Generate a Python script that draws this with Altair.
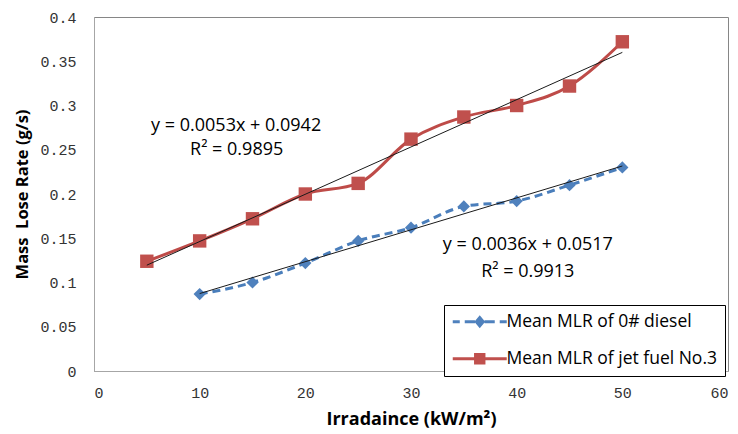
import altair as alt
import pandas as pd

# ---- data ----
irr_diesel = [10, 15, 20, 25, 30, 35, 40, 45, 50]
mlr_diesel = [0.087, 0.100, 0.122, 0.147, 0.162, 0.186, 0.192, 0.210, 0.230]
irr_jet = [5, 10, 15, 20, 25, 30, 35, 40, 45, 50]
mlr_jet = [0.124, 0.147, 0.172, 0.200, 0.212, 0.262, 0.287, 0.300, 0.322, 0.372]
series_names = ["Mean MLR of 0# diesel", "Mean MLR of jet fuel No.3"]
eq_texts = ["y = 0.0053x + 0.0942", "R\u00b2 = 0.9895", "y = 0.0036x + 0.0517", "R\u00b2 = 0.9913"]
x_ticks = [0, 10, 20, 30, 40, 50, 60]
y_ticks = [0, 0.05, 0.1, 0.15, 0.2, 0.25, 0.3, 0.35, 0.4]

# ---- annotation placement (data coordinates) ----
eq_x = [13.45, 13.5, 41.05, 41.05]
eq_y = [0.277, 0.2495, 0.1425, 0.1122]

# ---- styles ----
line_colors = ["#4A7EBB", "#BE4B48"]
marker_colors = ["#4F81BD", "#C0504D"]
legend_paths = [
    "M-4.5,-0.25L-3.33,-0.25L-3.33,0.25L-4.5,0.25Z "
    "M-2.5,-0.25L-0.8,-0.25L-0.8,0.25L-2.5,0.25Z "
    "M0.8,-0.25L2.5,-0.25L2.5,0.25L0.8,0.25Z "
    "M3.33,-0.25L4.5,-0.25L4.5,0.25L3.33,0.25Z "
    "M0,-1.1L0.9,0L0,1.1L-0.9,0Z",
    "M-4.5,-0.25L4.5,-0.25L4.5,0.25L-4.5,0.25Z "
    "M-0.95,-0.95L0.95,-0.95L0.95,0.95L-0.95,0.95Z",
]

df_d = pd.DataFrame({"irr": irr_diesel, "mlr": mlr_diesel, "series": series_names[0]})
df_j = pd.DataFrame({"irr": irr_jet, "mlr": mlr_jet, "series": series_names[1]})
df_all = pd.concat([df_d, df_j], ignore_index=True)
df_eq = pd.DataFrame({"t": eq_texts, "irr": eq_x, "mlr": eq_y})

tick_font = "Liberation Mono"
title_font = "Open Sans"

x_enc = alt.X(
    "irr:Q",
    scale=alt.Scale(domain=[0, 60], nice=False),
    axis=alt.Axis(
        values=x_ticks, format="d", title="Irradaince (kW/m\u00b2)", grid=False, ticks=False,
        domainColor="#A6A6A6", labelFont=tick_font, labelFontSize=15, labelColor="#333333",
        labelPadding=14, titleFont=title_font, titleFontSize=18, titleFontWeight="bold",
        titleColor="#000000", titlePadding=10,
    ),
)
y_enc = alt.Y(
    "mlr:Q",
    scale=alt.Scale(domain=[0, 0.4], nice=False),
    axis=alt.Axis(
        values=y_ticks, format=".2~f", title="Mass\u00a0 Lose Rate (g/s)", grid=False, ticks=False,
        domainColor="#A6A6A6", labelFont=tick_font, labelFontSize=15, labelColor="#333333",
        labelPadding=18, titleFont=title_font, titleFontSize=16.5, titleFontWeight="bold",
        titleColor="#000000", titlePadding=9,
    ),
)

diesel_line = alt.Chart(df_d).mark_line(
    color=line_colors[0], strokeWidth=3, strokeDash=[8, 5], interpolate="monotone"
).encode(x=x_enc, y=y_enc)
diesel_pts = alt.Chart(df_d).mark_point(
    shape="diamond", filled=True, size=150, color=marker_colors[0], opacity=1
).encode(x=x_enc, y=y_enc)
jet_line = alt.Chart(df_j).mark_line(
    color=line_colors[1], strokeWidth=3, interpolate="monotone"
).encode(x=x_enc, y=y_enc)
jet_pts = alt.Chart(df_j).mark_point(
    shape="square", filled=True, size=180, color=marker_colors[1], opacity=1
).encode(x=x_enc, y=y_enc)

trend_d = alt.Chart(df_d).transform_regression("irr", "mlr").mark_line(
    color="#1a1a1a", strokeWidth=1
).encode(x=x_enc, y=y_enc)
trend_j = alt.Chart(df_j).transform_regression("irr", "mlr").mark_line(
    color="#1a1a1a", strokeWidth=1
).encode(x=x_enc, y=y_enc)

eq_text = alt.Chart(df_eq).mark_text(
    font=title_font, fontSize=18, color="#000000", align="center", baseline="middle"
).encode(x=x_enc, y=y_enc, text="t:N")

leg = alt.Legend(
    title=None, orient="none", legendX=350, legendY=288, padding=8,
    fillColor="#FFFFFF", strokeColor="#000000", symbolSize=144, symbolOffset=19,
    labelOffset=18, labelFont=title_font, labelFontSize=17.5, labelColor="#000000",
    rowPadding=18, symbolStrokeWidth=0, labelLimit=400,
)
legend_layer = alt.Chart(df_all).transform_filter("false").mark_point(
    filled=True, opacity=1
).encode(
    x=x_enc, y=y_enc,
    color=alt.Color("series:N", scale=alt.Scale(domain=series_names, range=marker_colors), legend=leg),
    shape=alt.Shape("series:N", scale=alt.Scale(domain=series_names, range=legend_paths), legend=leg),
)

chart = alt.layer(
    diesel_line, jet_line, diesel_pts, jet_pts, trend_d, trend_j, eq_text, legend_layer
).properties(
    width=634, height=354,
    autosize=alt.AutoSizeParams(type="none"),
    padding={"left": 94, "top": 17, "right": 10, "bottom": 63},
    background="#FFFFFF",
).configure_view(stroke="#868686", strokeWidth=1)

chart.save("out.html", embed_options={"renderer": "svg", "actions": False})
